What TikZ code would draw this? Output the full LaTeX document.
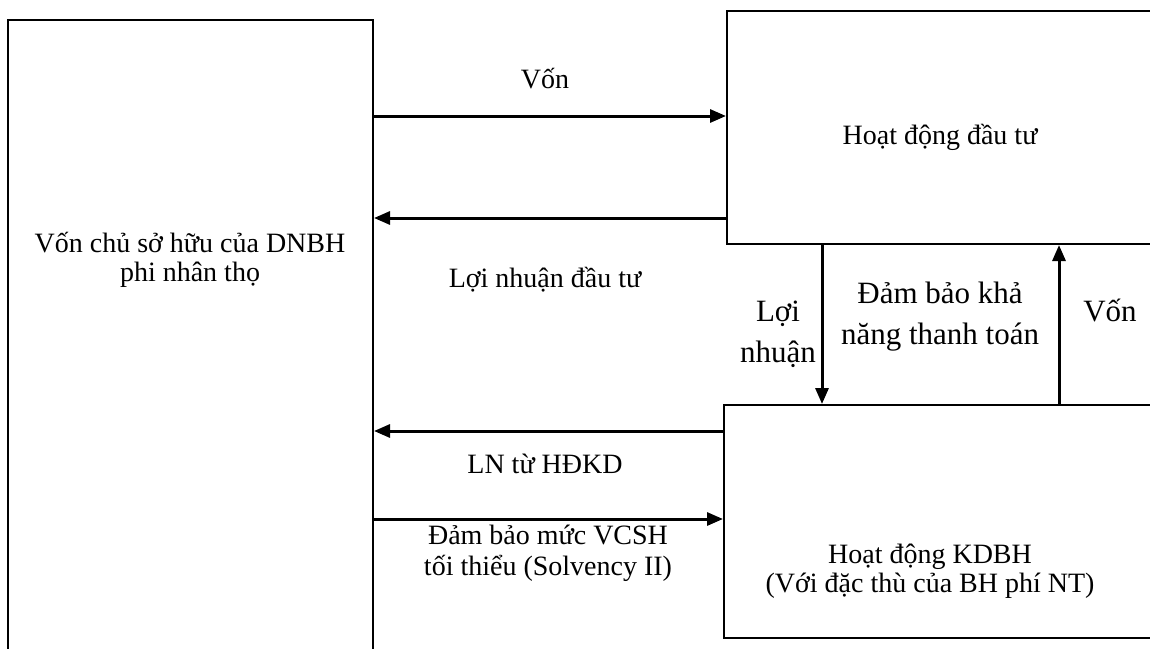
\documentclass[tikz,border=0pt]{standalone}
\usepackage{fontspec}
\setmainfont{Liberation Serif}
\usepackage{tikz}
\usetikzlibrary{arrows.meta,positioning,calc}

\tikzset{
  blockbox/.style={draw, line width=1pt, inner sep=0pt},
  flow/.style={line width=1.5pt, -{Triangle[length=8pt,width=6.5pt]}},
  txt/.style={align=center, inner sep=0pt, font=\fontsize{14}{14.5}\selectfont},
  bigtxt/.style={align=center, inner sep=0pt, font=\fontsize{15.5}{20.5}\selectfont}
}

\begin{document}
\begin{tikzpicture}[x=0.5pt,y=-0.5pt]
  \useasboundingbox (0,0) rectangle (1150,648);
  \clip (0,0) rectangle (1150,648);

  % Boxes
  \node[blockbox, minimum width=182.5pt, minimum height=320pt] (owner) at (190.5,340) {};
  \node[blockbox, minimum width=216.5pt, minimum height=116.5pt] (invest) at (943.5,127.5) {};
  \node[blockbox, minimum width=218pt, minimum height=116.5pt] (insur) at (942,521.5) {};

  % Box texts
  \node[txt] (ownertxt) at (190,260) {Vốn chủ sở hữu của DNBH\\phi nhân thọ};
  \node[txt] (investtxt) at (940,137) {Hoạt động đầu tư};
  \node[txt] (insurtxt) at (930,571) {Hoạt động KDBH\\(Với đặc thù của BH phí NT)};

  % Horizontal flows
  \draw[flow] (owner.east |- 0,116) -- (invest.west |- 0,116);
  \draw[flow] (invest.west |- 0,218) -- (owner.east |- 0,218);
  \draw[flow] (insur.west |- 0,431) -- (owner.east |- 0,431);
  \draw[flow] (owner.east |- 0,519) -- (insur.west |- 0,519);

  % Vertical flows
  \draw[flow] (invest.south -| 822,0) -- (insur.north -| 822,0);
  \draw[flow] (insur.north -| 1059,0) -- (invest.south -| 1059,0);

  % Flow labels
  \node[txt] (l1) at (545,79) {Vốn};
  \node[txt] (l2) at (545,280) {Lợi nhuận đầu tư};
  \node[txt] (l3) at (545,464) {LN từ HĐKD};
  \node[txt, font=\fontsize{14}{15.5}\selectfont] (l4) at (548,553) {Đảm bảo mức VCSH\\tối thiểu (Solvency II)};
  \node[bigtxt] (l5) at (778,334) {Lợi\\nhuận};
  \node[bigtxt] (l6) at (940,317) {Đảm bảo khả\\năng thanh toán};
  \node[bigtxt] (l7) at (1110,311) {Vốn};
\end{tikzpicture}
\end{document}
